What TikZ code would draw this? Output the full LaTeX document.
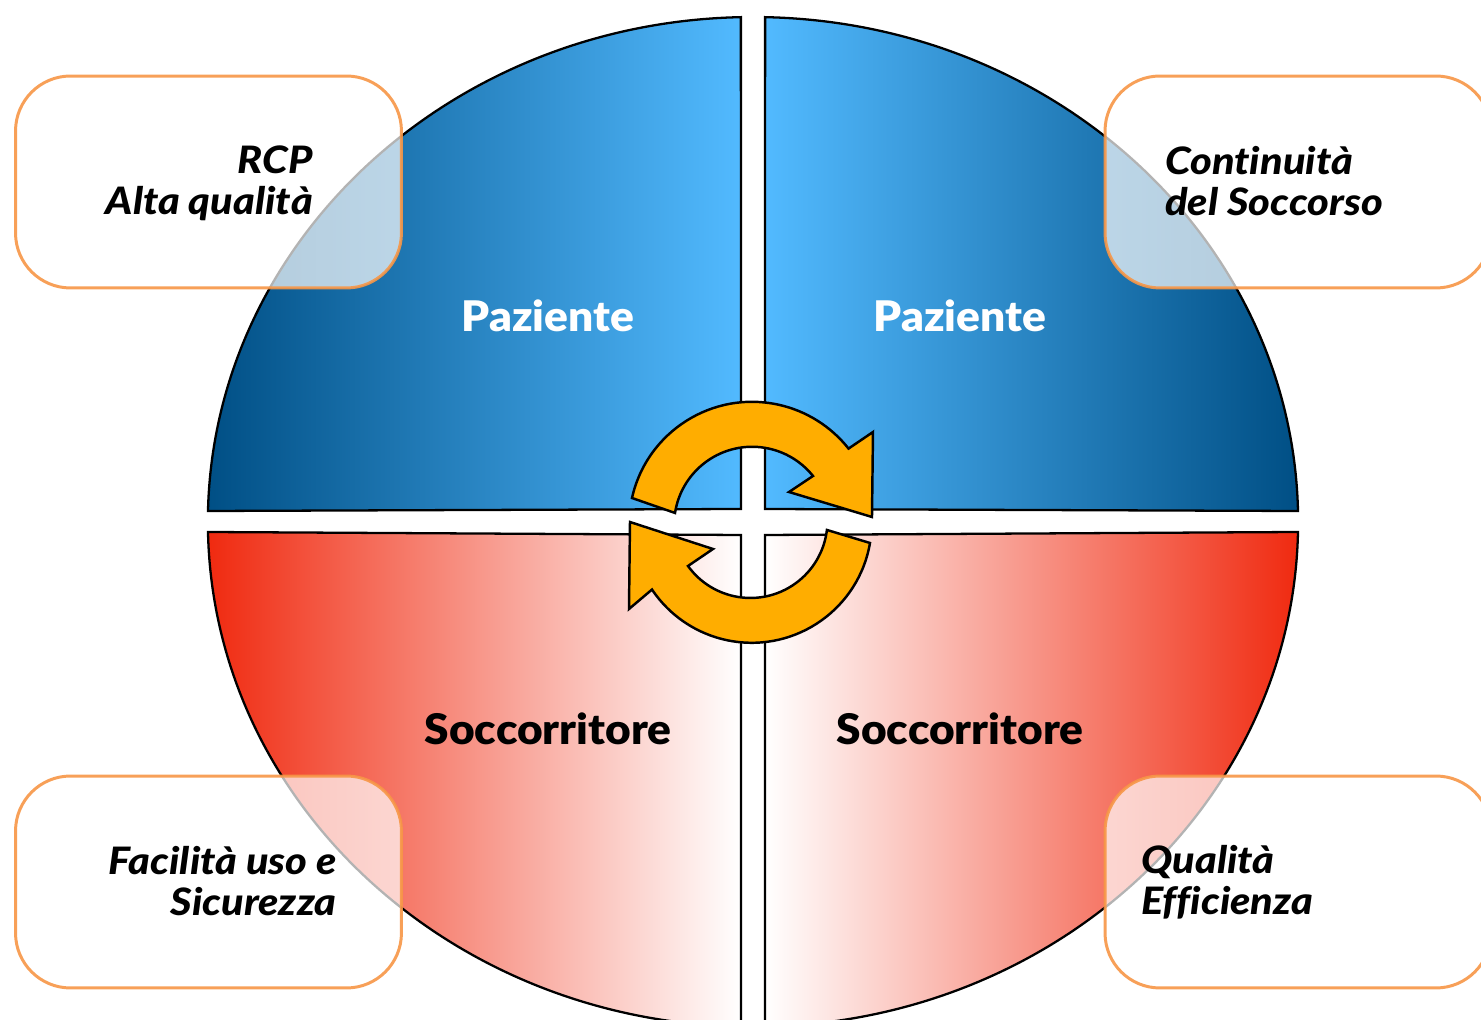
\documentclass[tikz,border=0pt]{standalone}
\usepackage{fontspec}
\setmainfont{Lato}[BoldFont={Lato Black},BoldItalicFont={Lato Black Italic},Ligatures=CommonOff]
\newfontfamily\sectorfont{Lato Black}[FakeStretch=1.05]
\newfontfamily\boxfont{Lato Black Italic}[FakeStretch=1.1,Ligatures=CommonOff]
\usepackage{xcolor}
\usepackage{tikz}
\usetikzlibrary{positioning}

\definecolor{bluedark}{HTML}{004F85}
\definecolor{bluelight}{HTML}{52BAFF}
\definecolor{redstrong}{HTML}{F02A10}
\definecolor{orangeline}{HTML}{F79646}
\definecolor{arrowfill}{HTML}{FFAD00}

\tikzset{
    wedge/.style={draw=black, line width=1.3pt, line join=miter},
    callout/.style={draw=orangeline, line width=1.7pt, fill=white, fill opacity=0.7, draw opacity=0.9,
        rounded corners=1.1cm, minimum width=7.72cm, minimum height=4.24cm, inner sep=0pt},
    cyclearrow/.style={draw=black, fill=arrowfill, line width=1.4pt, line join=miter},
    sectorlabel/.style={font=\fontsize{24}{28}\sectorfont, inner sep=0pt},
    boxlabel/.style={font=\fontsize{21.5}{23.2}\boxfont, inner sep=0pt}
}

\begin{document}
\begin{tikzpicture}[x=0.02cm, y=0.02cm]
    \clip (-753,522) rectangle (728,-498);

    % Quadrants
    \shadedraw[wedge, left color=bluedark, right color=bluelight]
        (-12,13) -- (-545,11) arc[start angle=178.75, end angle=91.26, x radius=545, y radius=505] -- cycle;
    \shadedraw[wedge, left color=bluelight, right color=bluedark]
        (12,13) -- (545,11) arc[start angle=1.25, end angle=88.74, x radius=545, y radius=505] -- cycle;
    \shadedraw[wedge, left color=redstrong, right color=white]
        (-12,-13) -- (-545,-10) arc[start angle=181.15, end angle=268.74, x radius=545, y radius=505] -- cycle;
    \shadedraw[wedge, left color=white, right color=redstrong]
        (12,-13) -- (545,-10) arc[start angle=-1.15, end angle=-88.74, x radius=545, y radius=505] -- cycle;

    % Sector labels
    \node[sectorlabel, text=white] (patientleft) at (-205,206) {Paziente};
    \node[sectorlabel, text=white] (patientright) at (207,206) {Paziente};
    \node[sectorlabel] (rescuerleft) at (-205,-207) {Soccorritore};
    \node[sectorlabel] (rescuerright) at (207,-207) {Soccorritore};

    % Cycle arrows
    \draw[cyclearrow] (-121,24) arc[start angle=167.4, end angle=38.3, radius=123]
        -- (120,90) -- (119,5) -- (36,30) -- (60,46)
        arc[start angle=38.7, end angle=171.3, radius=78] -- cycle;
    \draw[cyclearrow] (117,-21) arc[start angle=-9.7, end angle=-146.2, radius=120]
        -- (-124,-87) -- (-123,0) -- (-40,-27) -- (-65,-44)
        arc[start angle=215.8, end angle=353.3, radius=77] -- cycle;

    % Callout boxes
    \node[callout] (boxtl) at (-544.5,340) {};
    \node[callout] (boxtr) at (545,340) {};
    \node[callout] (boxbl) at (-544.5,-360) {};
    \node[callout] (boxbr) at (545,-360) {};

    % Box labels
    \node[boxlabel, align=right, anchor=east] (quality) at (-440,339) {RCP\\Alta qualità};
    \node[boxlabel, align=left, anchor=west] (continuity) at (412,341) {Continuità\\del Soccorso};
    \node[boxlabel, align=right, anchor=east] (safety) at (-416,-359) {Facilità uso e\\Sicurezza};
    \node[boxlabel, align=left, anchor=west] (efficiency) at (388,-360) {Qualità\\Efficienza};
\end{tikzpicture}
\end{document}
